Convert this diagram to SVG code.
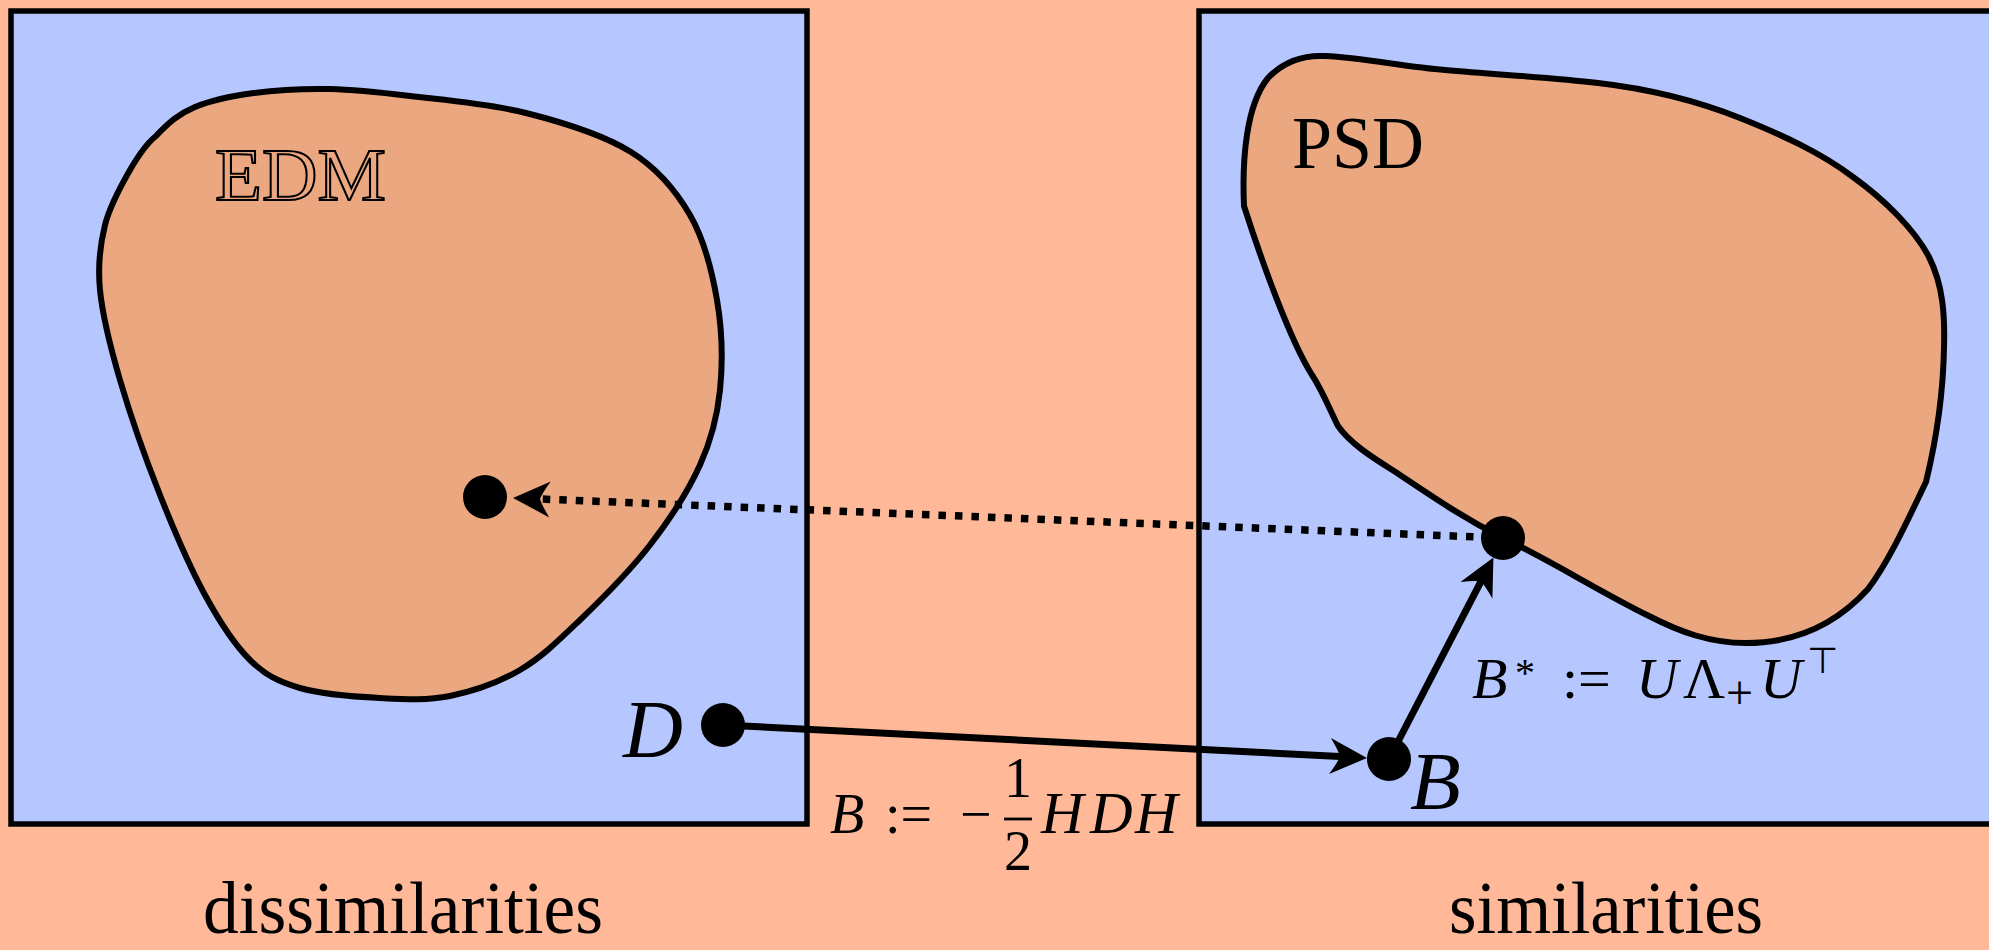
<svg xmlns="http://www.w3.org/2000/svg" width="1989" height="950" viewBox="0 0 1989 950">
<style>
.box{fill:#B6C6FF;stroke:#000;stroke-width:5.5}
.blob{fill:#EBA880;stroke:#000;stroke-width:6;stroke-linejoin:round}
.conn{fill:none;stroke:#000;stroke-width:7}
.dotted{stroke-width:7.5;stroke-dasharray:7.5 9}
.pt{fill:#000}
</style>
<defs>
<marker id="arrow" viewBox="-40 -20 44 40" refX="-27" refY="0" markerWidth="44" markerHeight="40" markerUnits="userSpaceOnUse" orient="auto">
<path d="M0,0 L-37,-18 Q-29,-6 -27,0 Q-29,6 -37,18 Z" fill="#000"/>
</marker>
</defs>
<rect width="1989" height="950" fill="#FFB998"/>

<g id="dissimilarities-space">
<rect class="box" x="11" y="11" width="796" height="813"/>
</g>
<g id="similarities-space">
<rect class="box" x="1199" y="11" width="850" height="813"/>
</g>

<g id="EDM-set">
<path class="blob" d="M254,93 C276.5,90 304,88.5 330,89 C356,89.5 377.3,92 410,96 C442.7,100 489.2,103.7 526,113 C562.8,122.3 603.7,135 631,152 C658.3,169 675.7,190.3 690,215 C704.3,239.7 712,270.8 717,300 C722,329.2 722.8,362.5 720,390 C717.2,417.5 711.7,439.2 700,465 C688.3,490.8 670,519.2 650,545 C630,570.8 601.7,599.2 580,620 C558.3,640.8 541.7,657.3 520,670 C498.3,682.7 473.3,691.3 450,696 C426.7,700.7 405,699.3 380,698 C355,696.7 321.7,694.3 300,688 C278.3,681.7 265.8,675.5 250,660 C234.2,644.5 220,622.5 205,595 C190,567.5 174.2,530.8 160,495 C145.8,459.2 130,414.2 120,380 C110,345.8 102.5,315.8 100,290 C97.5,264.2 100,245 105,225 C110,205 121.2,185.3 130,170 C138.8,154.7 146,144 156,136 C168.8,122.5 179,113.7 195,107 C211,100.3 231.5,96 254,93 Z"/>
<text x="215" y="200" font-family="'Liberation Serif', 'Times New Roman', serif" font-size="74" fill="none" stroke="#000" stroke-width="2" textLength="171" lengthAdjust="spacingAndGlyphs">EDM</text>
</g>

<g id="PSD-set">
<path class="blob" d="M1244,206 C1242,160 1246,105 1268,78 C1285,60 1305,55 1325,56 C1365,58 1405,67 1445,70 C1500,75 1550,77 1598,83 C1650,89 1700,102 1740,118 C1780,134 1820,152 1853,177 C1885,200 1915,230 1929,257 C1943,285 1945,315 1944,348 C1943,400 1935,445 1926,482 C1910,515 1890,560 1868,589 C1840,620 1800,643 1746,643 C1710,643 1680,632 1649,616 C1600,592 1550,560 1503,538 C1460,516 1430,495 1394,471 C1370,456 1350,443 1338,426 C1330,410 1322,390 1312,375 C1290,340 1262,262 1244,206 Z"/>
<text x="1292" y="168" font-family="'Liberation Serif', 'Times New Roman', serif" font-size="74" fill="#000" textLength="132" lengthAdjust="spacingAndGlyphs">PSD</text>
</g>

<g id="connectors">
<line class="conn" x1="723" y1="725" x2="1340" y2="756.6" marker-end="url(#arrow)"/>
<line class="conn" x1="1389" y1="759" x2="1481" y2="581.4" marker-end="url(#arrow)"/>
<line class="conn dotted" x1="1490" y1="537.5" x2="540" y2="499" marker-end="url(#arrow)"/>
<g id="label-B-def" font-family="'Liberation Serif', 'Times New Roman', serif" fill="#000">
<text x="830" y="833" font-size="56" font-style="italic">B</text>
<text x="885" y="833" font-size="56">:=</text>
<text x="960" y="833" font-size="56">−</text>
<text x="1018" y="797" font-size="56" text-anchor="middle">1</text>
<line x1="1004" y1="819" x2="1032" y2="819" stroke="#000" stroke-width="2.8"/>
<text x="1018" y="870" font-size="56" text-anchor="middle">2</text>
<text x="1041" y="833" font-size="59" font-style="italic">H</text>
<text x="1090" y="833" font-size="59" font-style="italic">D</text>
<text x="1135" y="833" font-size="59" font-style="italic">H</text>
</g>
<g id="label-Bstar-def" font-family="'Liberation Serif', 'Times New Roman', serif" fill="#000">
<text x="1472" y="698" font-size="58" font-style="italic">B</text>
<text x="1515" y="686" font-size="40">*</text>
<text x="1562" y="698" font-size="58">:=</text>
<text x="1636" y="698" font-size="58" font-style="italic">U</text>
<text x="1683" y="698" font-size="58">Λ</text>
<text x="1726" y="709" font-size="48">+</text>
<text x="1760" y="698" font-size="58" font-style="italic">U</text>
<text x="1807" y="673" font-family="'DejaVu Sans', sans-serif" font-size="36">⊤</text>
</g>
</g>

<g id="node-D">
<circle class="pt" cx="723" cy="725" r="22"/>
<text x="623" y="757" font-family="'Liberation Serif', 'Times New Roman', serif" font-style="italic" font-size="83" fill="#000">D</text>
</g>
<g id="node-B">
<circle class="pt" cx="1389" cy="759" r="22"/>
<text x="1410" y="809" font-family="'Liberation Serif', 'Times New Roman', serif" font-style="italic" font-size="83" fill="#000">B</text>
</g>
<g id="node-Bstar">
<circle class="pt" cx="1503" cy="538" r="22"/>
</g>
<g id="node-EDM-point">
<circle class="pt" cx="485" cy="497" r="22"/>
</g>

<g id="captions" font-family="'Liberation Serif', 'Times New Roman', serif" font-size="74" fill="#000">
<text x="203" y="933" textLength="400" lengthAdjust="spacingAndGlyphs">dissimilarities</text>
<text x="1449" y="933" textLength="314" lengthAdjust="spacingAndGlyphs">similarities</text>
</g>
</svg>
